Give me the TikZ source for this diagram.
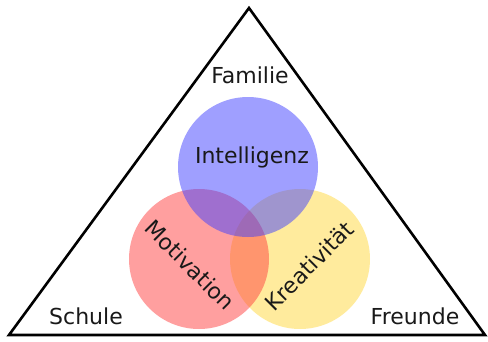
\documentclass[tikz,border=0pt]{standalone}
\usepackage{fontspec}
\setmainfont{DejaVu Sans}
\definecolor{kreisblau}{RGB}{64,64,255}
\definecolor{kreisrot}{RGB}{255,64,64}
\definecolor{kreisgelb}{RGB}{255,215,60}
\tikzset{
  kreis/.style={fill opacity=0.5, draw=none},
  wort/.style={text=black!90, font=\fontsize{22}{24}\selectfont, inner sep=0pt}
}

\begin{document}
\begin{tikzpicture}[x=1pt, y=-1pt]
  \useasboundingbox (0,0) rectangle (488,341);
  % Triangle around everything
  \coordinate (spitze) at (249,8);
  \coordinate (links) at (9,335);
  \coordinate (rechts) at (485,335);
  \draw[line width=2.6pt, line join=miter] (spitze) -- (links) -- (rechts) -- cycle;

  % Three overlapping circles
  \fill[kreis, kreisgelb] (300,259) circle (70);
  \fill[kreis, kreisrot] (199,259) circle (70);
  \fill[kreis, kreisblau] (248,167) circle (70);

  % Labels in the circles
  \node[wort] (intelligenz) at (252,157) {Intelligenz};
  \node[wort, rotate=-45] (motivation) at (190,265) {Motivation};
  \node[wort, rotate=45] (kreativitaet) at (309,266) {Kreativität};

  % Labels in the corners
  \node[wort] (familie) at (250,75) {Familie};
  \node[wort] (schule) at (86,316) {Schule};
  \node[wort] (freunde) at (415,316) {Freunde};
\end{tikzpicture}
\end{document}
